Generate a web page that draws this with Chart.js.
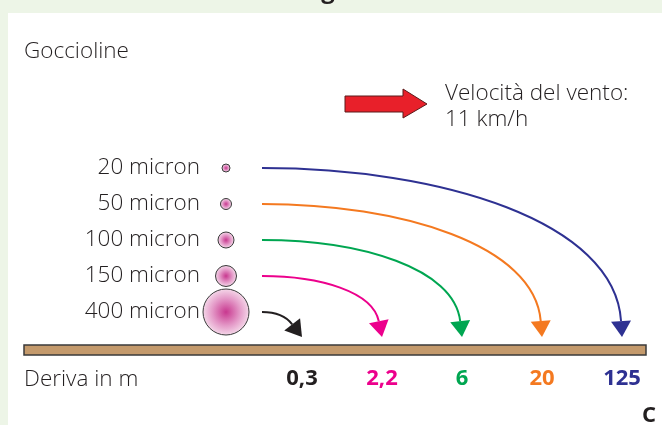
<!DOCTYPE html>
<html>
<head>
<meta charset="utf-8">
<script src="https://cdn.jsdelivr.net/npm/chart.js@4/dist/chart.umd.min.js"></script>
<style>
  html, body { margin: 0; padding: 0; background: #edf5e7; }
  #wrap { width: 662px; height: 425px; position: relative; }
  canvas { display: block; }
</style>
</head>
<body>
<div id="wrap"><canvas id="c" width="662" height="425"></canvas></div>
<script>
// ---- data ----
const dropletLabels = ['20 micron', '50 micron', '100 micron', '150 micron', '400 micron'];
const dropletSizes = [20, 50, 100, 150, 400];           // micron
const dropletDrift = ['125', '20', '6', '2,2', '0,3'];   // drift (m) reached by each droplet size
const driftLabels = ['0,3', '2,2', '6', '20', '125'];    // x tick labels (m)
const driftColors = ['#231f20', '#ec008c', '#00a651', '#f47920', '#2e3192'];
const windText = ['Velocità del vento:', '11 km/h'];
const yTitle = 'Goccioline';
const xTitle = 'Deriva in m';
const panelTag = 'C';

const FONT = "'Open Sans', 'Noto Sans', sans-serif";
const LIGHT = '300 22.5px ' + FONT;
const TXT = '#231f20';

const decor = {
  id: 'decor',
  beforeDraw(chart) {
    const ctx = chart.ctx;
    ctx.save();
    ctx.fillStyle = '#edf5e7';
    ctx.fillRect(0, 0, chart.width, chart.height);
    ctx.fillStyle = '#ffffff';
    ctx.fillRect(8, 13, chart.width - 8, chart.height - 13);
    // clipped title remnant at top
    ctx.fillStyle = TXT;
    ctx.font = 'bold 24px ' + FONT;
    ctx.textAlign = 'center';
    ctx.textBaseline = 'alphabetic';
    ctx.fillText('g', 328, -2);
    // y title
    ctx.font = LIGHT;
    ctx.textAlign = 'left';
    ctx.fillText(yTitle, 24, 58);
    // wind arrow
    ctx.beginPath();
    ctx.moveTo(345, 96); ctx.lineTo(403, 96); ctx.lineTo(403, 89);
    ctx.lineTo(427, 104);
    ctx.lineTo(403, 118); ctx.lineTo(403, 112); ctx.lineTo(345, 112);
    ctx.closePath();
    ctx.fillStyle = '#e8202a';
    ctx.fill();
    ctx.strokeStyle = '#5b1b1b';
    ctx.lineWidth = 1;
    ctx.stroke();
    ctx.fillStyle = TXT;
    ctx.fillText(windText[0], 445, 100);
    ctx.fillText(windText[1], 445, 126);
    // ground bar
    const a = chart.chartArea;
    const gy = a.bottom + 33;
    ctx.fillStyle = '#c49a6c';
    ctx.fillRect(24, gy, 622, 10);
    ctx.strokeStyle = '#3a3a3a';
    ctx.lineWidth = 1.5;
    ctx.strokeRect(24, gy, 622, 10);
    ctx.restore();
  },
  afterDraw(chart) {
    const ctx = chart.ctx;
    const xs = chart.scales.x, ys = chart.scales.y, a = chart.chartArea;
    const tipY = a.bottom + 25;
    ctx.save();
    dropletLabels.forEach((lab, i) => {
      const y0 = ys.getPixelForValue(i);
      const x0 = a.left;
      const j = driftLabels.indexOf(dropletDrift[i]);
      const tipX = xs.getPixelForValue(j);
      const col = driftColors[j];
      // solve the curve end so that the arrow tip lands on the tick
      let ex = tipX, ey = tipY, dx = 0, dy = 1;
      for (let k = 0; k < 4; k++) {
        const c2x = ex - 6, c2y = y0 + 0.35 * (ey - y0);
        const L = Math.hypot(ex - c2x, ey - c2y);
        dx = (ex - c2x) / L; dy = (ey - c2y) / L;
        ex = tipX - dx * 16; ey = tipY - dy * 16;
      }
      ctx.strokeStyle = col;
      ctx.lineWidth = 2;
      ctx.beginPath();
      ctx.moveTo(x0, y0);
      ctx.bezierCurveTo(x0 + 0.5 * (ex - x0), y0, ex - 6, y0 + 0.35 * (ey - y0), ex, ey);
      ctx.stroke();
      // arrow head
      const px = -dy, py = dx;
      ctx.fillStyle = col;
      ctx.beginPath();
      ctx.moveTo(tipX, tipY);
      ctx.lineTo(ex + px * 10, ey + py * 10);
      ctx.lineTo(ex - px * 10, ey - py * 10);
      ctx.closePath();
      ctx.fill();
      // droplet
      const r = 3 + dropletSizes[i] / 20;
      const cx = a.left - 36;
      const g = ctx.createRadialGradient(cx, y0, 0, cx, y0, r);
      g.addColorStop(0, '#c8388f');
      g.addColorStop(0.6, '#e49ac8');
      g.addColorStop(1, '#f4d6e8');
      ctx.fillStyle = g;
      ctx.beginPath();
      ctx.arc(cx, y0, r, 0, Math.PI * 2);
      ctx.fill();
      ctx.strokeStyle = '#3a3a3a';
      ctx.lineWidth = 1;
      ctx.stroke();
    });
    ctx.fillStyle = TXT;
    ctx.font = LIGHT;
    ctx.textAlign = 'left';
    ctx.textBaseline = 'alphabetic';
    ctx.fillText(xTitle, 24, 386);
    ctx.font = 'bold 22px ' + FONT;
    ctx.textAlign = 'right';
    ctx.fillText(panelTag, 656, 422);
    ctx.restore();
  }
};

new Chart(document.getElementById('c'), {
  type: 'bubble',
  data: { datasets: [] },
  options: {
    responsive: false,
    animation: false,
    devicePixelRatio: 1,
    layout: { padding: { left: 0, right: 0, top: 168, bottom: 0 } },
    plugins: { legend: { display: false }, tooltip: { enabled: false }, title: { display: false } },
    scales: {
      x: {
        type: 'category', labels: driftLabels, offset: true, position: 'bottom',
        grid: { display: false, drawTicks: false }, border: { display: false },
        afterFit: s => { s.height = 113; s.paddingLeft = 0; s.paddingRight = 0; },
        ticks: { padding: 54, autoSkip: false, maxRotation: 0,
          color: c => driftColors[c.index],
          font: { family: FONT, weight: 'bold', size: 22 } }
      },
      y: {
        type: 'category', labels: dropletLabels, offset: false, position: 'left',
        grid: { display: false, drawTicks: false }, border: { display: false },
        afterFit: s => { s.width = 262; s.paddingTop = 0; s.paddingBottom = 0; },
        ticks: { padding: 62, autoSkip: false, color: TXT,
          font: { family: FONT, size: 22.5, weight: 300 } }
      }
    }
  },
  plugins: [decor]
});
</script>
</body>
</html>
